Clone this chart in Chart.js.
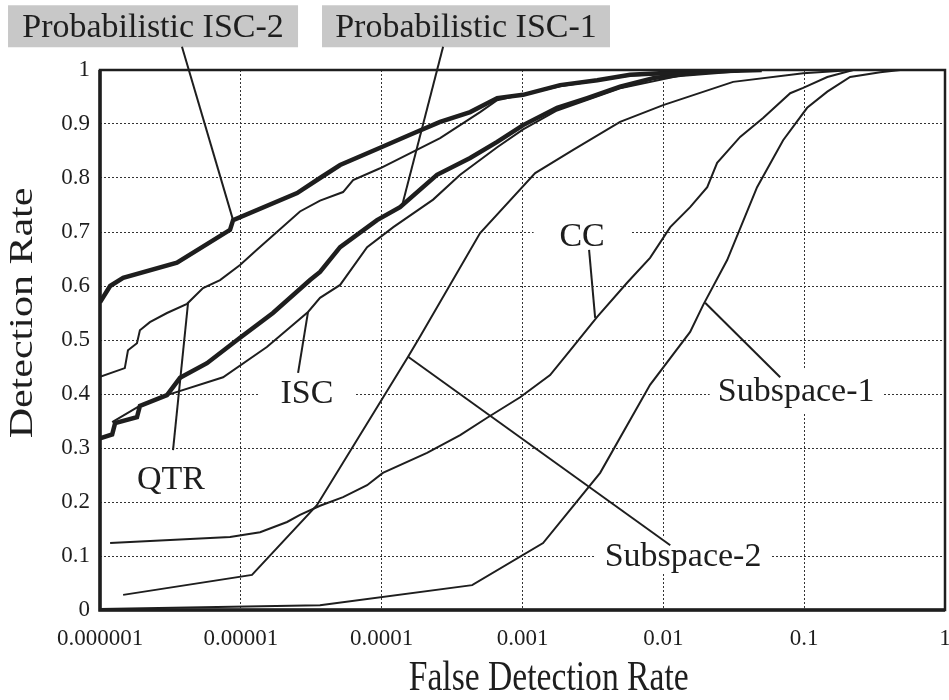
<!DOCTYPE html>
<html>
<head>
<meta charset="utf-8">
<script src="https://cdn.jsdelivr.net/npm/chart.js@4"></script>
<style>
  html, body { margin: 0; padding: 0; background: #fff; }
  #wrap { width: 949px; height: 700px; }
</style>
</head>
<body>
<div id="wrap"><canvas id="roc" width="949" height="700"></canvas></div>
<script>
/* ---------- AXES ---------- */
const fdrTicks = [1e-6, 1e-5, 1e-4, 1e-3, 1e-2, 1e-1, 1];
const fdrTickLabels = ["0.000001", "0.00001", "0.0001", "0.001", "0.01", "0.1", "1"];
const rateTicks = [0, 0.1, 0.2, 0.3, 0.4, 0.5, 0.6, 0.7, 0.8, 0.9, 1];
const rateTickLabels = ["0", "0.1", "0.2", "0.3", "0.4", "0.5", "0.6", "0.7", "0.8", "0.9", "1"];

/* ---------- CURVES (false detection rate, detection rate) ---------- */
const pisc2X = [1e-6, 1.18e-6, 1.46e-6, 3.52e-6, 8.38e-6, 8.81e-6, 2.51e-5, 3.65e-5, 5.07e-5, 9.75e-5, 1.59e-4, 2.6e-4, 4.25e-4, 6.61e-4, 1.01e-3, 1.85e-3, 3.39e-3, 5.81e-3, 0.0132, 0.05];
const pisc2Y = [0.57, 0.60, 0.615, 0.643, 0.704, 0.722, 0.772, 0.80, 0.824, 0.856, 0.88, 0.904, 0.922, 0.948, 0.954, 0.972, 0.981, 0.991, 0.996, 1];

const pisc1X = [1e-6, 1.22e-6, 1.28e-6, 1.83e-6, 1.92e-6, 2.99e-6, 3.7e-6, 5.75e-6, 9.87e-6, 1.69e-5, 3.1e-5, 3.65e-5, 5.07e-5, 9.27e-5, 1.35e-4, 2.47e-4, 4.25e-4, 6.61e-4, 1.01e-3, 1.76e-3, 2.88e-3, 4.93e-3, 8.47e-3, 0.0132, 0.0351];
const pisc1Y = [0.318, 0.325, 0.346, 0.357, 0.378, 0.398, 0.43, 0.457, 0.504, 0.55, 0.611, 0.626, 0.672, 0.722, 0.746, 0.806, 0.837, 0.867, 0.898, 0.93, 0.948, 0.969, 0.985, 0.991, 1];

const iscX = [1.22e-6, 1.86e-6, 2.99e-6, 7.48e-6, 1.53e-5, 3.0e-5, 3.65e-5, 5.07e-5, 7.88e-5, 1.21e-4, 2.32e-4, 3.61e-4, 6.61e-4, 1.01e-3, 1.76e-3, 4.93e-3, 0.0132, 0.0351];
const iscY = [0.348, 0.376, 0.398, 0.431, 0.487, 0.552, 0.578, 0.602, 0.672, 0.709, 0.76, 0.806, 0.857, 0.89, 0.925, 0.966, 0.99, 1];

const qtrX = [1e-6, 1.5e-6, 1.58e-6, 1.83e-6, 1.92e-6, 2.26e-6, 2.99e-6, 4.15e-6, 5.39e-6, 7.12e-6, 9.87e-6, 1.3e-5, 2.63e-5, 3.65e-5, 5.32e-5, 6.27e-5, 9.75e-5, 2.6e-4, 5.0e-4, 6.61e-4, 1.85e-3, 5.81e-3, 0.05];
const qtrY = [0.432, 0.448, 0.481, 0.494, 0.518, 0.533, 0.55, 0.567, 0.596, 0.611, 0.639, 0.667, 0.738, 0.758, 0.774, 0.796, 0.818, 0.874, 0.922, 0.944, 0.97, 0.99, 1];

const ccX = [1.18e-6, 8.38e-6, 1.37e-5, 2.13e-5, 2.63e-5, 3.65e-5, 5.32e-5, 7.88e-5, 1.02e-4, 2.1e-4, 3.61e-4, 5.61e-4, 9.62e-4, 1.57e-3, 2.18e-3, 3.39e-3, 5.53e-3, 8.05e-3, 0.0112, 0.0155, 0.0205, 0.0241, 0.0351, 0.0511, 0.0796, 0.0984, 0.146, 0.223];
const ccY = [0.124, 0.135, 0.144, 0.163, 0.176, 0.193, 0.209, 0.231, 0.254, 0.291, 0.324, 0.356, 0.394, 0.435, 0.481, 0.543, 0.606, 0.652, 0.709, 0.746, 0.783, 0.828, 0.876, 0.911, 0.957, 0.967, 0.987, 1];

const sub1X = [1e-6, 3.65e-5, 4.39e-4, 1.4e-3, 3.56e-3, 8.05e-3, 0.0155, 0.0192, 0.0284, 0.0463, 0.0709, 0.105, 0.146, 0.212, 0.347, 0.481];
const sub1Y = [0.002, 0.009, 0.046, 0.124, 0.254, 0.417, 0.515, 0.565, 0.648, 0.783, 0.87, 0.93, 0.96, 0.987, 0.996, 1];

const sub2X = [1.46e-6, 1.2e-5, 3.47e-5, 1.54e-4, 1.87e-4, 5.0e-4, 1.23e-3, 2.29e-3, 4.93e-3, 9.97e-3, 0.0313, 0.0984, 0.223];
const sub2Y = [0.028, 0.065, 0.194, 0.469, 0.506, 0.698, 0.809, 0.852, 0.904, 0.935, 0.978, 0.994, 1];

/* ---------- CALLOUTS (text, anchor, leader from -> to) ---------- */
const callouts = [
  { text: "Probabilistic ISC-2", at: [2.38e-6, 1.081], from: [3.82e-6, 1.043], to: [8.81e-6, 0.722], box: [290, 42], fill: "#c8c8c8" },
  { text: "Probabilistic ISC-1", at: [3.97e-4, 1.081], from: [2.73e-4, 1.043], to: [1.40e-4, 0.750], box: [288, 42], fill: "#c8c8c8" },
  { text: "ISC",        at: [2.95e-5, 0.404], from: [2.55e-5, 0.439], to: [3.0e-5, 0.552],  box: [97, 34],  fill: "#fff" },
  { text: "QTR",        at: [3.19e-6, 0.244], from: [3.30e-6, 0.296], to: [4.22e-6, 0.569], box: [72, 34],  fill: "#fff" },
  { text: "CC",         at: [2.65e-3, 0.694], from: [2.97e-3, 0.667], to: [3.28e-3, 0.541], box: [97, 34],  fill: "#fff" },
  { text: "Subspace-1", at: [0.0877, 0.407], from: [0.0676, 0.431], to: [0.0198, 0.569],  box: [173, 44], fill: "#fff" },
  { text: "Subspace-2", at: [0.0138, 0.102], from: [0.0112, 0.120], to: [1.54e-4, 0.469], box: [175, 36], fill: "#fff" }
];

const SERIF = '"Liberation Serif", "Times New Roman", serif';
const INK = "#1e1e1e";

function pts(xs, ys) {
  return xs.map((x, i) => ({ x, y: ys[i] }));
}

function curve(label, xs, ys, width) {
  return {
    label,
    data: pts(xs, ys),
    borderColor: INK,
    borderWidth: width,
    pointRadius: 0,
    tension: 0,
    fill: false
  };
}

/* ---------- PLUGIN: callouts, frame, axis titles ---------- */
const decorate = {
  id: "decorate",
  beforeDatasetsDraw(chart) {
    const { ctx, scales: { x, y } } = chart;
    ctx.save();
    callouts.forEach(c => {
      const cx = x.getPixelForValue(c.at[0]);
      const cy = y.getPixelForValue(c.at[1]);
      ctx.fillStyle = c.fill;
      ctx.fillRect(cx - c.box[0] / 2, cy - c.box[1] / 2, c.box[0], c.box[1]);
      ctx.fillStyle = INK;
      ctx.font = "34px " + SERIF;
      ctx.textAlign = "center";
      ctx.textBaseline = "alphabetic";
      ctx.fillText(c.text, cx, cy + 11);
    });
    ctx.restore();
  },
  afterDatasetsDraw(chart) {
    const { ctx, scales: { x, y } } = chart;
    ctx.save();
    ctx.strokeStyle = INK;
    ctx.lineWidth = 2;
    callouts.forEach(c => {
      ctx.beginPath();
      ctx.moveTo(x.getPixelForValue(c.from[0]), y.getPixelForValue(c.from[1]));
      ctx.lineTo(x.getPixelForValue(c.to[0]), y.getPixelForValue(c.to[1]));
      ctx.stroke();
    });
    ctx.restore();
  },
  afterDraw(chart) {
    const { ctx, chartArea: a } = chart;
    ctx.save();
    ctx.strokeStyle = INK;
    ctx.lineWidth = 2.5;
    ctx.strokeRect(a.left, a.top, a.right - a.left, a.bottom - a.top);
    ctx.lineWidth = 3.5;
    ctx.beginPath();
    ctx.moveTo(a.left, a.top);
    ctx.lineTo(a.left, a.bottom);
    ctx.lineTo(a.right, a.bottom);
    ctx.stroke();
    ctx.restore();

    // axis titles, set in a narrow serif
    ctx.save();
    ctx.fillStyle = INK;
    ctx.font = "42px " + SERIF;
    ctx.textAlign = "center";
    ctx.textBaseline = "alphabetic";
    ctx.translate(a.left + 0.531 * (a.right - a.left), 690);
    ctx.scale(0.8, 1);
    ctx.fillText("False Detection Rate", 0, 0);
    ctx.restore();

    ctx.save();
    ctx.fillStyle = INK;
    ctx.font = "42px " + SERIF;
    ctx.textAlign = "center";
    ctx.textBaseline = "middle";
    ctx.translate(23, chart.scales.y.getPixelForValue(0.55));
    ctx.scale(0.8, 1);
    ctx.rotate(-Math.PI / 2);
    ctx.fillText("Detection Rate", 0, 0);
    ctx.restore();
  }
};

new Chart(document.getElementById("roc"), {
  type: "line",
  data: {
    datasets: [
      curve("Probabilistic ISC-2", pisc2X, pisc2Y, 4.5),
      curve("Probabilistic ISC-1", pisc1X, pisc1Y, 4.5),
      curve("ISC", iscX, iscY, 2),
      curve("QTR", qtrX, qtrY, 2),
      curve("CC", ccX, ccY, 2),
      curve("Subspace-1", sub1X, sub1Y, 2),
      curve("Subspace-2", sub2X, sub2Y, 2)
    ]
  },
  options: {
    responsive: false,
    animation: false,
    layout: { padding: { top: 70, right: 4, left: 0, bottom: 0 } },
    plugins: { legend: { display: false }, tooltip: { enabled: false } },
    scales: {
      x: {
        type: "logarithmic",
        min: 1e-6,
        max: 1,
        afterBuildTicks: s => { s.ticks = fdrTicks.map(v => ({ value: v })); },
        afterFit: s => { s.height = 90; s.paddingLeft = 0; s.paddingRight = 0; },
        ticks: {
          autoSkip: false,
          maxRotation: 0,
          padding: 15,
          color: INK,
          font: { family: SERIF, size: 23 },
          callback: (v, i) => fdrTickLabels[i]
        },
        grid: { color: "#333", lineWidth: 1, drawTicks: false },
        border: { display: false, dash: [2, 2] }
      },
      y: {
        type: "linear",
        min: 0,
        max: 1,
        afterBuildTicks: s => { s.ticks = rateTicks.map(v => ({ value: v })); },
        afterFit: s => { s.width = 100; s.paddingTop = 0; s.paddingBottom = 0; },
        ticks: {
          padding: 10,
          color: INK,
          font: { family: SERIF, size: 23 },
          callback: (v, i) => rateTickLabels[i]
        },
        grid: { color: "#333", lineWidth: 1, drawTicks: false },
        border: { display: false, dash: [2, 2] }
      }
    }
  },
  plugins: [decorate]
});
</script>
</body>
</html>
